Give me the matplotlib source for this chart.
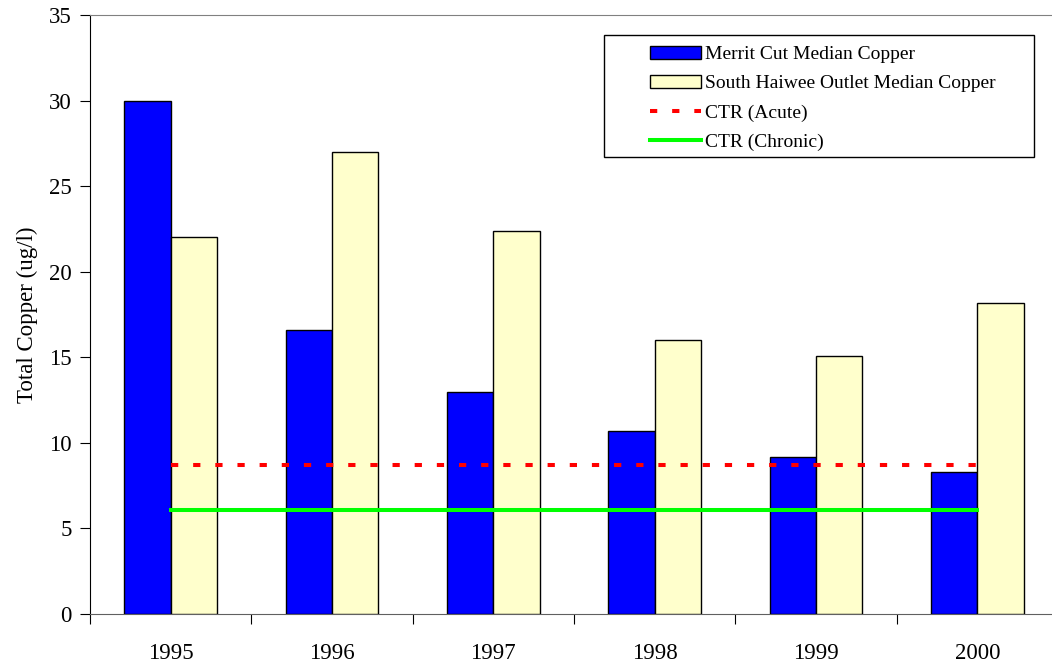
import matplotlib.pyplot as plt
from matplotlib.patches import Rectangle
import numpy as np

years = ['1995', '1996', '1997', '1998', '1999', '2000']
merrit_cut = [30.0, 16.6, 13.0, 10.7, 9.2, 8.3]
south_haiwee = [22.0, 27.0, 22.4, 16.0, 15.1, 18.2]
ctr_acute = 8.7
ctr_chronic = 6.1

plt.rcParams['font.family'] = ['Liberation Serif', 'DejaVu Serif']

fig = plt.figure(figsize=(10.52, 6.67), dpi=100)
# plot area runs a little past the right edge of the image, as in the original
ax = fig.add_axes([90 / 1052, 1 - 614 / 667, 968 / 1052, 599 / 667])

x = np.arange(len(years)) + 0.5
w = 0.287
b1 = ax.bar(x - w / 2, merrit_cut, w, color='#0000ff', edgecolor='black', linewidth=1,
            label='Merrit Cut Median Copper', zorder=3)
b2 = ax.bar(x + w / 2, south_haiwee, w, color='#ffffcc', edgecolor='black', linewidth=1,
            label='South Haiwee Outlet Median Copper', zorder=3)
l1, = ax.plot([x[0], x[-1]], [ctr_acute, ctr_acute], color='#ff0000', lw=2.9,
              linestyle=(0, (1.8, 3.7)), label='CTR (Acute)', zorder=4)
l2, = ax.plot([x[0], x[-1]], [ctr_chronic, ctr_chronic], color='#00ff00', lw=2.9,
              label='CTR (Chronic)', zorder=4)

ax.set_xlim(0, 6)
ax.set_ylim(0, 35)
ax.set_yticks(range(0, 36, 5))
ax.set_xticks(np.arange(0, 6))
ax.set_xticklabels([])
ax.set_xticks(x, minor=True)
ax.set_xticklabels(years, minor=True)
ax.tick_params(axis='x', which='minor', length=0, pad=21, labelsize=16.5)
ax.tick_params(axis='x', which='major', length=7, direction='out', color='black')
ax.tick_params(axis='y', length=7, direction='out', labelsize=16.5, pad=6)
ax.set_ylabel('Total Copper (ug/l)', fontsize=16.5, labelpad=8)

ax.spines['right'].set_visible(False)
ax.spines['top'].set_color('#808080')
ax.spines['bottom'].set_color('#606060')
ax.spines['left'].set_color('black')

# legend box drawn separately so the handles can sit inset from its left edge
fig.patches.append(Rectangle((604 / 1052, 1 - 157 / 667), 430 / 1052, 122 / 667,
                             transform=fig.transFigure, fill=False,
                             edgecolor='black', linewidth=1, zorder=5))
leg = fig.legend(handles=[b1, b2, l1, l2], loc='upper left',
                 bbox_to_anchor=(650 / 1052, 1 - 46 / 667), bbox_transform=fig.transFigure,
                 fontsize=14, frameon=False, handlelength=2.6, handleheight=0.65,
                 borderpad=0, labelspacing=0.61, handletextpad=0.22, borderaxespad=0)
leg.set_zorder(6)

fig.savefig('out.png', dpi=100)
